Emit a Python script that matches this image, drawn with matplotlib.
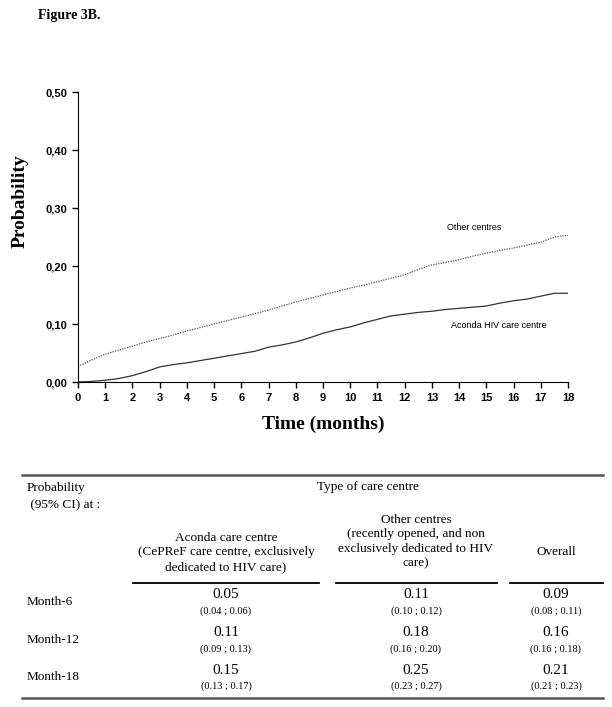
import matplotlib
matplotlib.use("Agg")
import matplotlib.pyplot as plt
from matplotlib.lines import Line2D

# Cumulative probability curves, month grid
months = [0, 0.5, 1, 1.5, 2, 2.5, 3, 3.5, 4, 4.5, 5, 5.5, 6, 6.5, 7, 7.5, 8, 8.5, 9,
          9.5, 10, 10.5, 11, 11.5, 12, 12.5, 13, 13.5, 14, 14.5, 15, 15.5, 16, 16.5,
          17, 17.5, 18]
other = [0.027, 0.038, 0.048, 0.055, 0.062, 0.069, 0.075, 0.081, 0.088, 0.094, 0.100,
         0.106, 0.112, 0.118, 0.124, 0.131, 0.138, 0.144, 0.150, 0.156, 0.162, 0.167,
         0.173, 0.179, 0.185, 0.194, 0.202, 0.206, 0.211, 0.217, 0.222, 0.227, 0.231,
         0.236, 0.241, 0.250, 0.253]
aconda = [0.0, 0.001, 0.003, 0.006, 0.011, 0.018, 0.026, 0.030, 0.033, 0.037, 0.041,
          0.045, 0.049, 0.053, 0.060, 0.064, 0.069, 0.076, 0.084, 0.090, 0.095, 0.102,
          0.108, 0.114, 0.117, 0.120, 0.122, 0.125, 0.127, 0.129, 0.131, 0.136, 0.140,
          0.143, 0.148, 0.153, 0.153]

yticks = [0.0, 0.1, 0.2, 0.3, 0.4, 0.5]
ytick_labels = ["0,00", "0,10", "0,20", "0,30", "0,40", "0,50"]
xticks = list(range(0, 19))

# Table contents
row_labels = ["Month-6", "Month-12", "Month-18"]
col_headers = [
    ["Aconda care centre", "(CePReF care centre, exclusively", "dedicated to HIV care)"],
    ["Other centres", "(recently opened, and non", "exclusively dedicated to HIV", "care)"],
    ["Overall"],
]
estimates = [["0.05", "0.11", "0.09"],
             ["0.11", "0.18", "0.16"],
             ["0.15", "0.25", "0.21"]]
intervals = [["(0.04 ; 0.06)", "(0.10 ; 0.12)", "(0.08 ; 0.11)"],
             ["(0.09 ; 0.13)", "(0.16 ; 0.20)", "(0.16 ; 0.18)"],
             ["(0.13 ; 0.17)", "(0.23 ; 0.27)", "(0.21 ; 0.23)"]]

W, H = 612, 707
fig = plt.figure(figsize=(W / 100, H / 100), dpi=100)
SERIF = ["Liberation Serif", "DejaVu Serif"]
SANS = ["Liberation Sans", "DejaVu Sans"]


def px(x, y):
    return x / W, 1 - y / H


def ftext(x, y, s, **kw):
    fx, fy = px(x, y)
    fig.text(fx, fy, s, **kw)


def hline(x0, x1, y, lw=1.0, color="black"):
    a, fy = px(x0, y)
    b, _ = px(x1, y)
    fig.add_artist(Line2D([a, b], [fy, fy], lw=lw, color=color))


ftext(38, 15, "Figure 3B.", family=SERIF, weight="bold", fontsize=10, va="center")

ax = fig.add_axes([78 / W, 1 - 382 / H, 490 / W, 290 / H])
ax.plot(months, aconda, color="#333333", lw=0.9)
ax.plot(months, other, color="#555555", lw=0.9, ls=(0, (1, 1)))
ax.set_xlim(0, 18)
ax.set_ylim(0, 0.5)
ax.set_xticks(xticks)
ax.set_yticks(yticks)
ax.set_yticklabels(ytick_labels)
for lab in ax.get_xticklabels() + ax.get_yticklabels():
    lab.set_family(SANS)
    lab.set_weight("bold")
    lab.set_fontsize(8)
ax.tick_params(direction="out", length=4, width=1, pad=4)
ax.spines["top"].set_visible(False)
ax.spines["right"].set_visible(False)
ax.set_xlabel("Time (months)", family=SERIF, weight="bold", fontsize=14, labelpad=9)
ax.set_ylabel("Probability", family=SERIF, weight="bold", fontsize=14)
ax.yaxis.set_label_coords(-0.1, 0.624)
ax.text(13.55, 0.266, "Other centres", family=SANS, fontsize=6.5, va="center")
ax.text(13.7, 0.097, "Aconda HIV care centre", family=SANS, fontsize=6.5, va="center")

# table
hline(22, 603, 475, lw=1.8, color="#555555")
ftext(27, 488, "Probability", family=SERIF, fontsize=9.5, va="center")
ftext(27, 505, " (95% CI) at :", family=SERIF, fontsize=9.5, va="center")
ftext(368, 487, "Type of care centre", family=SERIF, fontsize=9.5, va="center", ha="center")

col_x = [226, 416, 556]
col_top = [538, 520, 552]
col_span = [(133, 319), (336, 497), (510, 603)]
for cx, ty, lines, (a, b) in zip(col_x, col_top, col_headers, col_span):
    for k, s in enumerate(lines):
        ftext(cx, ty + k * 14.5, s, family=SERIF, fontsize=9.5, va="center", ha="center")
    hline(a, b, 583, lw=1.3)

row_y = [602, 640, 677]
for ry, lab, ests, cis in zip(row_y, row_labels, estimates, intervals):
    ftext(27, ry, lab, family=SERIF, fontsize=9.5, va="center")
    for cx, e, c in zip(col_x, ests, cis):
        ftext(cx, ry - 7, e, family=SERIF, fontsize=11, va="center", ha="center")
        ftext(cx, ry + 9, c, family=SERIF, fontsize=7.5, va="center", ha="center")
hline(22, 603, 698, lw=1.8, color="#555555")

fig.savefig("out.png", dpi=100)
